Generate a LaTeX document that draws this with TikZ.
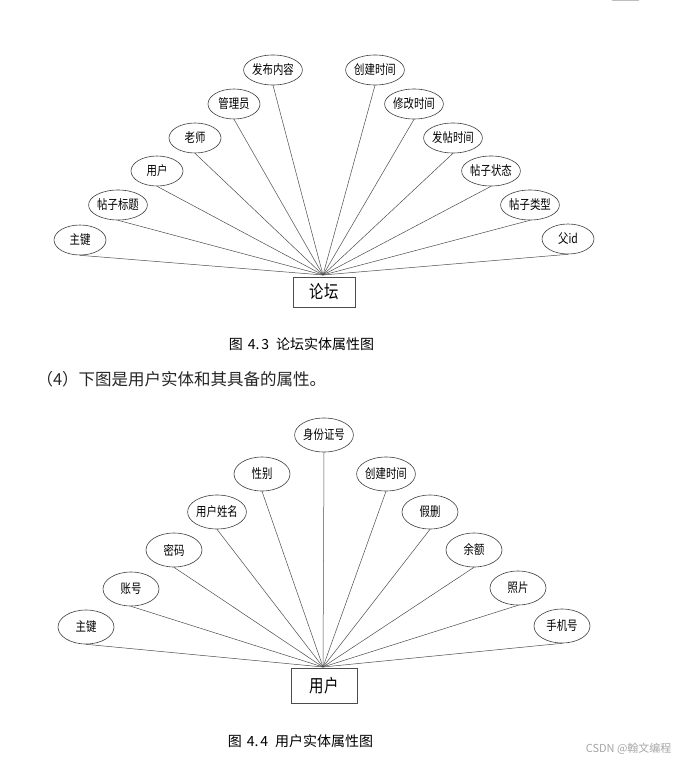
\documentclass[tikz,border=0pt]{standalone}
\usepackage{fontspec}
\usetikzlibrary{shapes.geometric}
\setmainfont{Liberation Sans}
\newfontfamily\cjk{Noto Sans CJK SC}
\newfontfamily\cjkn[FakeStretch=0.8]{Noto Sans CJK SC}
\begin{document}
\begin{tikzpicture}[x=1pt,y=-1pt,
  attr/.style={ellipse,draw=black!75,line width=0.6pt,minimum width=52pt,minimum height=30pt,inner sep=0pt,font=\cjkn\fontsize{13}{13}\selectfont},
  battr/.style={attr,minimum width=56pt,minimum height=34pt},
  ent/.style={rectangle,draw=black!70,line width=0.6pt,inner sep=0pt,font=\cjkn\fontsize{18}{19}\selectfont},
  link/.style={draw=black!70,line width=0.5pt},
  captext/.style={font=\cjk\fontsize{14}{14}\selectfont}]
\useasboundingbox (0,0) rectangle (682,762);
\fill[white] (0,0) rectangle (682,762);
\draw[gray!50,line width=1.2pt] (612,0.6) -- (639,0.6);

% ---- top diagram ----
\node[ent,minimum width=62pt,minimum height=30pt] (forum) at (324,292) {论坛};
\coordinate (fh) at (323,275);
\node[attr] (t1) at (80,240) {主键};
\node[attr] (t2) at (118,205) {帖子标题};
\node[attr] (t3) at (157,171) {用户};
\node[attr] (t4) at (195,138) {老师};
\node[attr] (t5) at (234,104) {管理员};
\node[attr] (t6) at (273,70) {发布内容};
\node[attr] (t7) at (375,70) {创建时间};
\node[attr] (t8) at (414,104) {修改时间};
\node[attr] (t9) at (453,138) {发帖时间};
\node[attr] (t10) at (491,171) {帖子状态};
\node[attr] (t11) at (530,205) {帖子类型};
\node[attr] (t12) at (568,239) {父id};
\foreach \n in {t1,t2,t3,t4,t5,t6,t7,t8,t9,t10,t11,t12}
  \draw[link] (\n.south) -- (fh);

\node[captext] (cap1) at (301.5,344.5) {图\hspace{5pt}4.\hspace{2pt}3\hspace{7pt}论坛实体属性图};
\node[anchor=west,text=black!85,font=\cjk\fontsize{16.5}{17}\selectfont] (para) at (33,379) {（4）下图是用户实体和其具备的属性。};

% ---- bottom diagram ----
\node[ent,minimum width=66pt,minimum height=35pt] (user) at (324,686) {用户};
\coordinate (uh) at (323,667);
\node[battr] (b1) at (86,627) {主键};
\node[battr] (b2) at (131,589) {账号};
\node[battr] (b3) at (174,550) {密码};
\node[battr] (b4) at (217,512) {用户姓名};
\node[battr] (b5) at (262,474) {性别};
\node[battr] (b6) at (324,435) {身份证号};
\node[battr] (b7) at (386,474) {创建时间};
\node[battr] (b8) at (430,512) {假删};
\node[battr] (b9) at (474,550) {余额};
\node[battr] (b10) at (518,588) {照片};
\node[battr] (b11) at (562,626) {手机号};
\foreach \n in {b1,b2,b3,b4,b5,b6,b7,b8,b9,b10,b11}
  \draw[link] (\n.south) -- (uh);

\node[captext] (cap2) at (300.5,741) {图\hspace{5pt}4.\hspace{2pt}4\hspace{7pt}用户实体属性图};
\node[anchor=east,text=black!35,font=\cjk\fontsize{11}{12}\selectfont] (wm) at (675,749) {CSDN @翰文编程};
\end{tikzpicture}
\end{document}
